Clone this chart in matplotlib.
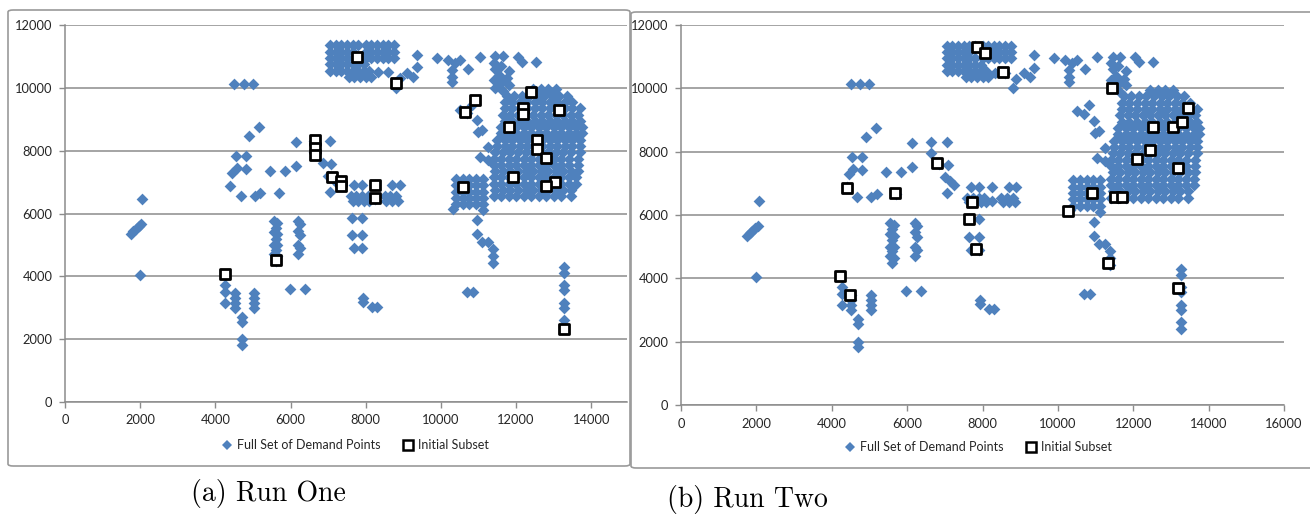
import matplotlib
matplotlib.use("Agg")
import matplotlib.pyplot as plt
from matplotlib.lines import Line2D
from matplotlib.patches import FancyBboxPatch

# demand points, grouped by area of the map
west_x = [1750, 1820, 1890, 1960, 2030, 2060, 2000,
          4500, 4750, 5000, 4900, 5170, 4550, 4810, 4570, 4810, 4450, 4400,
          4670, 5050, 5190, 5450, 5850, 5700, 6140, 6140,
          6630, 7050, 6630, 6850, 7080, 7000, 7150, 7250, 7050,
          5550, 5650, 5600, 5550, 5650, 5600, 5550, 5650, 5600, 5550, 5650, 5600,
          6200, 6250, 6200, 6250, 6200, 6250, 6200,
          5980, 6380,
          4260, 4260, 4260, 4520, 4520, 4520, 4520, 4700, 4700, 4700, 4700,
          5030, 5030, 5030, 5030]
west_y = [5350, 5430, 5510, 5590, 5660, 6450, 4030,
          10130, 10130, 10130, 8470, 8760, 7830, 7830, 7450, 7420, 7290, 6880,
          6560, 6560, 6660, 7360, 7360, 6660, 7520, 8280,
          8300, 8300, 7950, 7600, 7580, 7200, 7080, 6950, 6700,
          5750, 5700, 5550, 5400, 5350, 5200, 5000, 5000, 4850, 4700, 4650, 4500,
          5750, 5650, 5450, 5300, 5000, 4900, 4700,
          3600, 3600,
          3730, 3500, 3150, 3470, 3310, 3150, 2990, 2710, 2550, 2000, 1820,
          3470, 3310, 3150, 2990]

centre_x = [7700, 7900, 8250, 8700, 8900,
            7600, 7750, 7900, 8050, 8250, 8500, 8650, 8800,
            7650, 7800, 7950, 8100, 8550, 8700, 8850,
            7630, 7900, 7630, 7900, 7700, 7900,
            7930, 7930, 8160, 8300]
centre_y = [6900, 6900, 6900, 6900, 6900,
            6550, 6550, 6550, 6550, 6450, 6550, 6550, 6550,
            6400, 6400, 6400, 6400, 6400, 6400, 6400,
            5860, 5860, 5320, 5320, 4900, 4900,
            3310, 3180, 3030, 3030]

# dense block at the top of the map, one list of x per row
north_rows_y = [11350, 11150, 10950, 10750, 10550, 10350]
north_rows_x = [
    [7050, 7200, 7350, 7500, 7650, 7800, 8000, 8150, 8300, 8450, 8600, 8750],
    [7050, 7200, 7350, 7500, 7650, 8000, 8150, 8300, 8450, 8600, 8750],
    [7050, 7200, 7350, 7500, 7650, 7800, 8000, 8150, 8300, 8450, 8600, 8750],
    [7050, 7200, 7350, 7500, 7650, 7800, 7950],
    [7050, 7200, 7350, 7500, 7650, 7800, 7950, 8100],
    [7550, 7700, 7850, 8000, 8150],
]

north_x = [8330, 8600, 9360, 9360, 9100, 9260, 8900, 8800, 9890, 10190, 10370,
           10500, 10290, 10290, 10290, 10720, 11040, 12050, 12150, 12530,
           11450, 11650, 11400, 11600, 11800, 11450, 11550, 11750, 11400,
           11600, 11800, 11450, 11650]
north_y = [10500, 10500, 11050, 10650, 10480, 10350, 10300, 10000, 10950, 10890,
           10800, 10890, 10570, 10350, 10190, 10600, 10990, 10990, 10830, 10830,
           11000, 11000, 10800, 10700, 10550, 10600, 10400, 10300, 10250,
           10150, 10100, 10000, 9900]

# large block on the east side, one list of x per row
east_rows_y = [9950, 9750, 9550, 9350, 9150, 8950, 8750, 8550, 8350, 8150,
               7950, 7750, 7550, 7350, 7150, 6950, 6750, 6550]
east_rows_x = [
    [12450, 12650, 12850, 13050],
    [11750, 11950, 12150, 12350, 12550, 12750, 12950, 13150, 13350],
    [11700, 11900, 12100, 12300, 12500, 12700, 12900, 13100, 13300, 13500],
    [11700, 11900, 12100, 12300, 12500, 12700, 12900, 13100, 13300, 13500, 13700],
    [11650, 11850, 12050, 12250, 12450, 12650, 12850, 13050, 13250, 13450, 13650],
    [11700, 11900, 12100, 12300, 12500, 12700, 12900, 13100, 13300, 13500, 13700],
    [11600, 11800, 12000, 12200, 12400, 12600, 12800, 13000, 13200, 13400, 13600, 13750],
    [11600, 11800, 12000, 12200, 12400, 12600, 12800, 13000, 13200, 13400, 13600, 13750],
    [11500, 11700, 11900, 12100, 12300, 12500, 12700, 12900, 13100, 13300, 13500, 13700],
    [11500, 11700, 11900, 12100, 12300, 12500, 12700, 12900, 13100, 13300, 13500, 13700],
    [11450, 11650, 11850, 12050, 12250, 12450, 12650, 12850, 13050, 13250, 13450, 13700],
    [11400, 11600, 11800, 12000, 12200, 12400, 12600, 12800, 13000, 13200, 13400, 13650],
    [11400, 11600, 11800, 12000, 12200, 12400, 12600, 12800, 13000, 13200, 13400, 13650],
    [11450, 11650, 11850, 12050, 12250, 12450, 12650, 12850, 13050, 13250, 13450, 13650],
    [11400, 11600, 11800, 12000, 12200, 12400, 12600, 12800, 13000, 13200, 13400, 13600],
    [11400, 11600, 11800, 12000, 12200, 12400, 12600, 12800, 13000, 13200, 13400, 13600],
    [11450, 11650, 11850, 12050, 12250, 12450, 12650, 12850, 13050, 13250, 13450],
    [11400, 11600, 11800, 12000, 12200, 12400, 12600, 12800, 13000, 13200, 13450],
]

east_x = [10500, 10700, 10830, 10960, 11090, 11250, 11040, 11250, 10980,
          10400, 10580, 10760, 10940, 11120,
          10400, 10580, 10760, 10940, 11120,
          10400, 10580, 10760, 10940, 11120,
          10400, 10580, 10760, 10940, 11120,
          10400, 10580, 10760, 10940, 11120,
          10320, 11120, 10960, 10960, 11090, 11250, 11380, 11380, 11380,
          10690, 10850,
          13270, 13270, 13270, 13270, 13270, 13270, 13270, 13270]
east_y = [9300, 9200, 9460, 8980, 8660, 8120, 7800, 7700, 8600,
          7100, 7100, 7100, 7100, 7100,
          6900, 6900, 6900, 6900, 6900,
          6700, 6700, 6700, 6700, 6700,
          6500, 6500, 6500, 6500, 6500,
          6300, 6300, 6300, 6300, 6300,
          6150, 6100, 5780, 5340, 5100, 5100, 4870, 4650, 4430,
          3500, 3500,
          4300, 4110, 3730, 3570, 3150, 2990, 2610, 2400]

# initial subsets of the two runs
run_one_x = [6650, 6650, 6650, 7100, 7350, 7350, 8240, 8240, 7770, 8800,
             10900, 10640, 12390, 12180, 12180, 13140, 11800, 12550, 12550,
             12790, 11910, 13030, 12790, 10590, 4260, 5610, 13270]
run_one_y = [8350, 8100, 7850, 7150, 7050, 6880, 6900, 6500, 10990, 10160,
             9620, 9240, 9870, 9360, 9170, 9300, 8760, 8340, 8060,
             7770, 7170, 7000, 6880, 6850, 4080, 4520, 2320]

run_two_x = [4400, 5680, 6790, 7850, 8060, 8540, 11430, 13450, 12520, 13050,
             13290, 12440, 12100, 13180, 10900, 11510, 11700, 10270, 7720,
             7640, 7820, 4220, 4480, 11330, 13180]
run_two_y = [6860, 6700, 7650, 11310, 11120, 10520, 10020, 9380, 8780, 8780,
             8940, 8060, 7770, 7490, 6700, 6570, 6570, 6130, 6410,
             5880, 4930, 4080, 3480, 4490, 3700]

demand_x = west_x + centre_x + north_x + east_x
demand_y = west_y + centre_y + north_y + east_y
for y, xs in zip(north_rows_y + east_rows_y, north_rows_x + east_rows_x):
    demand_x += xs
    demand_y += [y] * len(xs)

BLUE = "#4f81bd"
GRID = "#8c8c8c"
TXT = "#262626"
plt.rcParams["font.family"] = ["Lato", "DejaVu Sans"]

W, H = 1310, 516
fig = plt.figure(figsize=(W / 100, H / 100), dpi=100)


def px_box(x0, y0, x1, y1):
    # pixel rectangle -> figure fraction [left, bottom, width, height]
    return [x0 / W, 1 - y1 / H, (x1 - x0) / W, (y1 - y0) / H]


def panel(box, xmax, xticks, sub_x, sub_y):
    ax = fig.add_axes(box)
    ax.scatter(demand_x, demand_y, marker="D", s=36, color=BLUE,
               linewidths=0, zorder=3)
    ax.scatter(sub_x, sub_y, marker="s", s=62, facecolor="white",
               edgecolor="black", linewidths=2.0, zorder=4)
    ax.set_xlim(0, xmax)
    ax.set_ylim(0, 12000)
    ax.set_xticks(xticks)
    ax.set_yticks(range(0, 12001, 2000))
    ax.yaxis.grid(True, color=GRID, linewidth=1.1)
    ax.set_axisbelow(True)
    for s in ("top", "right"):
        ax.spines[s].set_visible(False)
    for s in ("left", "bottom"):
        ax.spines[s].set_color(GRID)
        ax.spines[s].set_linewidth(1.1)
    ax.tick_params(colors=GRID, labelcolor=TXT, labelsize=9.3, length=4,
                   width=1.0, pad=5)
    return ax


panel(px_box(65, 25, 627, 402), 14950, range(0, 14001, 2000),
      run_one_x, run_one_y)
panel(px_box(681, 25, 1284, 405), 16000, range(0, 16001, 2000),
      run_two_x, run_two_y)

# chart area borders
for x0, y0, x1, y1 in [(8, 10, 630, 466), (631, 12, 1330, 468)]:
    fig.patches.append(FancyBboxPatch(
        (x0 / W, 1 - y1 / H), (x1 - x0) / W, (y1 - y0) / H,
        boxstyle="round,pad=0,rounding_size=0.004", transform=fig.transFigure,
        facecolor="none", edgecolor="#9a9a9a", linewidth=1.2))

handles = [
    Line2D([], [], linestyle="none", marker="D", markersize=5.5,
           markerfacecolor=BLUE, markeredgewidth=0),
    Line2D([], [], linestyle="none", marker="s", markersize=6.5,
           markerfacecolor="white", markeredgecolor="black", markeredgewidth=1.8),
]
labels = ["Full Set of Demand Points", "Initial Subset"]
for cx, cy in [(355, 445), (978, 447)]:
    fig.legend(handles, labels, loc="center", ncol=2, frameon=False,
               bbox_to_anchor=(cx / W, 1 - cy / H), fontsize=9,
               handletextpad=0.3, columnspacing=1.8, handlelength=0.9,
               labelcolor=TXT)

fig.text(268 / W, 1 - 493 / H, "(a) Run One", family="cmr10", fontsize=20,
         ha="center", va="center")
fig.text(747 / W, 1 - 500 / H, "(b) Run Two", family="cmr10", fontsize=20,
         ha="center", va="center")

fig.savefig("out.png", dpi=100)
